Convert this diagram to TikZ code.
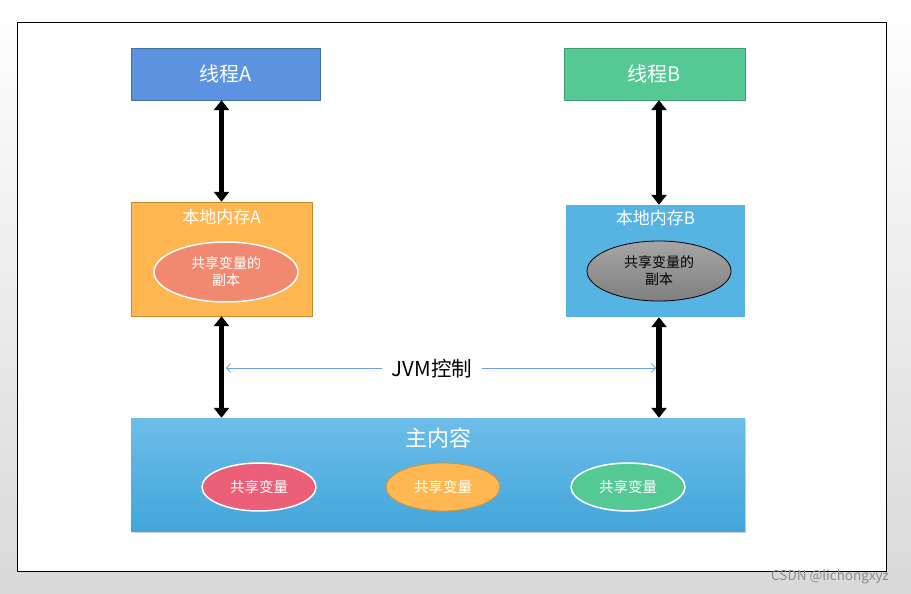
\documentclass[tikz,border=0pt]{standalone}
\usepackage{fontspec}
\setmainfont{Noto Sans CJK SC}
\usetikzlibrary{shapes.geometric,arrows.meta,shadows}

\definecolor{thrAblue}{HTML}{5B93E0}
\definecolor{thrAedge}{HTML}{41719C}
\definecolor{thrBgreen}{HTML}{55C994}
\definecolor{thrBedge}{HTML}{3E9A6F}
\definecolor{locorange}{HTML}{FFB752}
\definecolor{locedge}{HTML}{C9892A}
\definecolor{locblue}{HTML}{56B4E3}
\definecolor{copysalmon}{HTML}{F0896F}
\definecolor{mainTop}{HTML}{6DBDE9}
\definecolor{mainBot}{HTML}{42A6DA}
\definecolor{varred}{HTML}{EC5F78}
\definecolor{varedge}{HTML}{D0913A}
\definecolor{jvmline}{HTML}{6E9EE8}

\tikzset{
  threadbox/.style={rectangle, draw, minimum width=#1, minimum height=52pt,
    text=white, font=\fontsize{20}{22}\selectfont},
  membox/.style={rectangle, minimum width=#1, inner sep=0pt},
  memtitle/.style={text=white, font=\fontsize{17}{19}\selectfont, inner sep=0pt},
  copyvar/.style={ellipse, minimum width=144pt, minimum height=60pt, inner sep=0pt,
    align=center, font=\fontsize{14}{17}\selectfont},
  sharevar/.style={ellipse, minimum width=114pt, minimum height=48pt, inner sep=0pt,
    text=white, font=\fontsize{14.5}{16}\selectfont},
  bigarrow/.style={line width=5.5pt, {Triangle[width=15pt,length=10pt]}-{Triangle[width=15pt,length=10pt]}},
  ctrl/.style={jvmline, line width=0.8pt}
}

\begin{document}
\begin{tikzpicture}[x=1pt,y=-1pt]
  % page background and frame
  \useasboundingbox (0,0) rectangle (911,594);
  \shade[top color=white, bottom color=black!15] (0,0) rectangle (911,594);
  \draw[fill=white, line width=0.8pt] (17,22) rectangle (886,571);

  % threads
  \node[threadbox=189pt, fill=thrAblue, draw=thrAedge] (thrA) at (225.5,74) {线程A};
  \node[threadbox=181pt, fill=thrBgreen, draw=thrBedge] (thrB) at (654.5,74) {线程B};

  % local memory A
  \node[membox=181pt, minimum height=114pt, fill=locorange, draw=locedge] (locA) at (221.5,259) {};
  \node[memtitle] (locAtitle) at (221.5,217) {本地内存A};
  \node[copyvar, fill=copysalmon, draw=white, line width=1.5pt, text=white] (copyA) at (226,272) {共享变量的\\副本};

  % local memory B
  \node[membox=179pt, minimum height=112pt, fill=locblue] (locB) at (655.5,261) {};
  \node[memtitle] (locBtitle) at (655.5,218) {本地内存B};
  \node[copyvar, top color=black!35, bottom color=black!50, draw=black, line width=0.8pt, text=black] (copyB) at (659,271) {共享变量的\\副本};

  % main memory
  \node[membox=614pt, minimum height=113pt, top color=mainTop, bottom color=mainBot,
    drop shadow={shadow xshift=1pt, shadow yshift=-2pt, opacity=0.35}] (mainmem) at (438,474.5) {};
  \node[memtitle, font=\fontsize{22}{24}\selectfont] (maintitle) at (438,438) {主内容};
  \node[sharevar, fill=varred, draw=white, line width=1.5pt] (var1) at (259,487) {共享变量};
  \node[sharevar, fill=locorange, draw=varedge, line width=0.8pt] (var2) at (443,487) {共享变量};
  \node[sharevar, fill=thrBgreen, draw=white, line width=1.5pt] (var3) at (628,487) {共享变量};

  % read / write arrows
  \draw[bigarrow] (locA.north |- thrA.south) -- (locA.north);
  \draw[bigarrow] ([xshift=3.5pt]locB.north |- thrB.south) -- ([xshift=3.5pt]locB.north);
  \draw[bigarrow] (locA.south) -- (locA.south |- mainmem.north);
  \draw[bigarrow] ([xshift=3.5pt]locB.south) -- ([xshift=3.5pt]locB.south |- mainmem.north);

  % jvm control
  \coordinate (jvmL) at (226,368);
  \coordinate (jvmR) at (656,368);
  \node[font=\fontsize{20.5}{22}\selectfont, inner xsep=10pt] (jvm) at (432,369) {JVM控制};
  \draw[ctrl, {Straight Barb[length=4pt,width=9pt]}-] (jvmL) -- (jvm.west |- jvmL);
  \draw[ctrl, -{Straight Barb[length=4pt,width=9pt]}] (jvm.east |- jvmR) -- (jvmR);

  % watermark
  \node[text=black!45, font=\fontsize{13.5}{15}\selectfont] (mark) at (830,577) {CSDN @lichongxyz};
\end{tikzpicture}
\end{document}
